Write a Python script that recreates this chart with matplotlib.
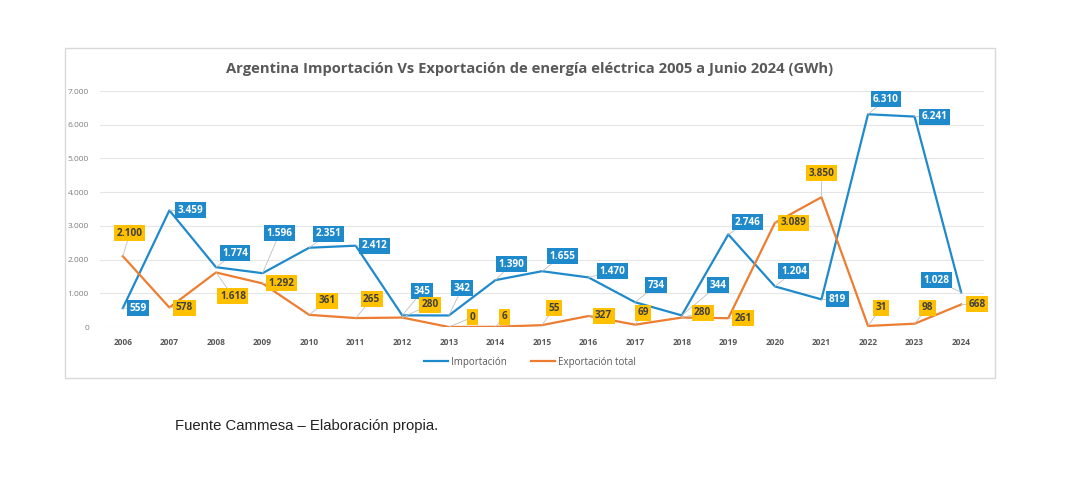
import matplotlib.pyplot as plt
from matplotlib.patches import Rectangle
from matplotlib.lines import Line2D

years = list(range(2006, 2025))
importacion = [559, 3459, 1774, 1596, 2351, 2412, 345, 342, 1390, 1655,
               1470, 734, 344, 2746, 1204, 819, 6310, 6241, 1028]
exportacion = [2100, 578, 1618, 1292, 361, 265, 280, 0, 6, 55,
               327, 69, 280, 261, 3089, 3850, 31, 98, 668]

# label offsets in pixels (dx, dy up positive)
off_imp = [(15, 0), (21, 0), (19, 14), (17, 40), (19, 14), (19, 0), (20, 24),
           (13, 27), (16, 16), (20, 15), (24, 6), (21, 17), (36, 30), (19, 12),
           (19, 15), (16, 0), (18, 15), (20, 0), (-25, 12)]
off_exp = [(7, 23), (15, 0), (17, -24), (19, 0), (18, 14), (16, 19), (28, 13),
           (24, 10), (9, 10), (12, 17), (15, 0), (8, 12), (21, 5), (15, 0),
           (19, 0), (0, 24), (13, 18), (13, 16), (16, 0)]

blue = '#1F8ACB'
orange = '#ED7D31'
gold = '#FFC000'


def fmt(v):
    return f"{v:,}".replace(",", ".")


fig = plt.figure(figsize=(10.8, 4.86), dpi=100)
fig.patch.set_facecolor('white')

# chart frame
fig.patches.append(Rectangle((65 / 1080, 1 - 378 / 486), 930 / 1080, 330 / 486,
                             transform=fig.transFigure, fill=False,
                             edgecolor='#D9D9D9', linewidth=1.0))

ax = fig.add_axes([100 / 1080, 1 - 327 / 486, 884 / 1080, 236 / 486])
x = list(range(len(years)))
ax.plot(x, importacion, color=blue, linewidth=1.6, zorder=3)
ax.plot(x, exportacion, color=orange, linewidth=1.6, zorder=3)
ax.set_xlim(-0.49, len(years) - 0.51)
ax.set_ylim(0, 7000)
ax.set_yticks(range(0, 7001, 1000))
ax.set_yticklabels([fmt(v) for v in range(0, 7001, 1000)], fontsize=6,
                   color='#7F7F7F', family='Open Sans')
ax.set_xticks(x)
ax.set_xticklabels([str(y) for y in years], fontsize=6, color='#595959',
                   fontweight='bold', family='Open Sans')
ax.tick_params(length=0, pad=8)
ax.tick_params(axis='y', pad=8)
ax.grid(axis='y', color='#E6E6E6', linewidth=0.8)
ax.set_axisbelow(True)
for s in ax.spines.values():
    s.set_visible(False)


def labels(vals, offs, fc, tc):
    for i, (v, (dx, dy)) in enumerate(zip(vals, offs)):
        ax.annotate(fmt(v), (i, v), xytext=(dx * 0.72, dy * 0.72),
                    textcoords='offset points', ha='center', va='center',
                    fontsize=7.2, fontweight='bold', color=tc, family='Open Sans',
                    bbox=dict(boxstyle='square,pad=0.25', fc=fc, ec='none'),
                    arrowprops=dict(arrowstyle='-', color='#BFBFBF', lw=0.6,
                                    shrinkA=0, shrinkB=0),
                    zorder=5)


labels(importacion, off_imp, blue, 'white')
labels(exportacion, off_exp, gold, '#404040')

fig.text(530 / 1080, 1 - 69 / 486,
         'Argentina Importación Vs Exportación de energía eléctrica 2005 a Junio 2024 (GWh)',
         ha='center', va='center', fontsize=10.6, fontweight='bold',
         color='#595959', family='Open Sans')

handles = [Line2D([], [], color=blue, lw=1.6), Line2D([], [], color=orange, lw=1.6)]
fig.legend(handles, ['Importación', 'Exportación total'], loc='center',
           bbox_to_anchor=(530 / 1080, 1 - 362 / 486), ncol=2, frameon=False,
           prop={'family': 'Open Sans', 'size': 7}, labelcolor='#595959',
           handlelength=2.5, columnspacing=2.5, handletextpad=0.3)

fig.text(175 / 1080, 1 - 426 / 486, 'Fuente Cammesa – Elaboración propia.',
         ha='left', va='center', fontsize=10.7, color='#222222',
         family='Liberation Sans')

fig.savefig('out.png', dpi=100)
